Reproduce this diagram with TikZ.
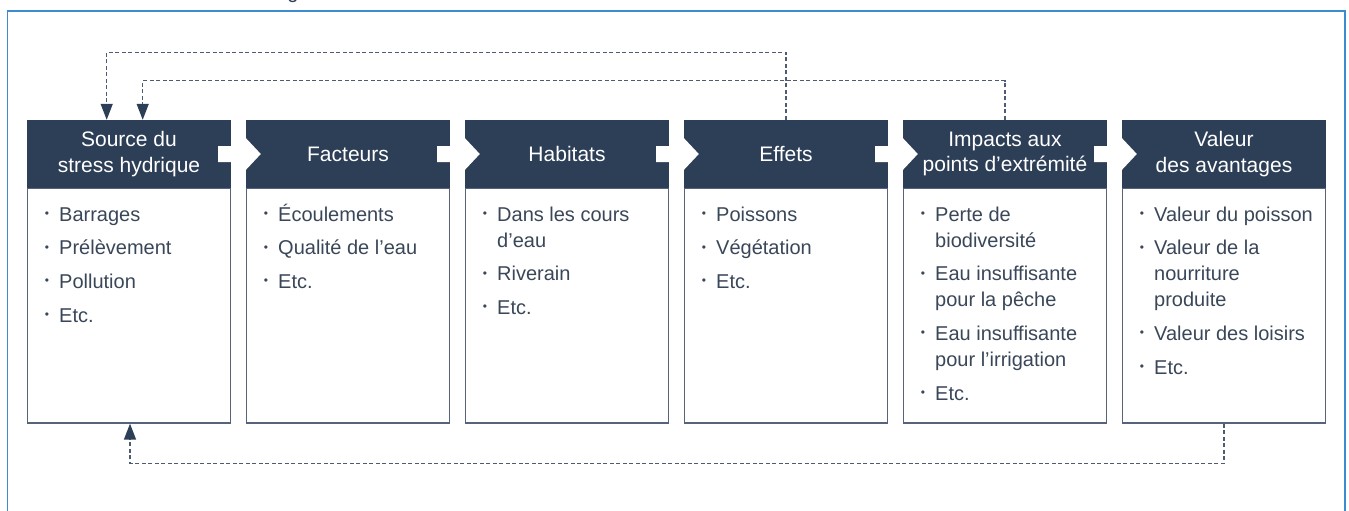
\documentclass[tikz,border=0pt]{standalone}
\usepackage{fontspec}
\setmainfont{Liberation Sans}
\usetikzlibrary{arrows.meta}
\definecolor{navy}{HTML}{2D3E57}
\definecolor{bodytext}{HTML}{3A4759}
\definecolor{bordercol}{HTML}{56637A}
\definecolor{dashcol}{HTML}{4F5B72}
\definecolor{framecol}{HTML}{3D8BD1}
\newcommand\li[4]{\node[itm] (#1) at (#2+32,#3) {#4};}
\newcommand\bu[3]{\node[bulsty] (#1) at (#2+20,#3-6.5) {•};}
\begin{document}
\begin{tikzpicture}[x=1pt,y=-1pt,
  hdr/.style={fill=navy, text=white, minimum width=204pt, minimum height=68pt, inner sep=0pt, align=center, font=\fontsize{21}{25.4}\selectfont},
  bdy/.style={draw=bordercol, line width=1.3pt, fill=white, minimum width=203pt, minimum height=235pt, inner sep=0pt},
  itm/.style={anchor=base west, inner sep=0pt, text=bodytext, font=\fontsize{20}{24}\selectfont},
  bulsty/.style={anchor=center, inner sep=0pt, text=bodytext, font=\fontsize{12}{12}\selectfont},
  fb/.style={draw=dashcol, line width=1.4pt, dash pattern=on 4pt off 2.5pt, -{Triangle[length=16pt,width=12pt,color=navy]}}
]
\useasboundingbox (0,0) rectangle (1349,511);
% outer frame
\draw[framecol, line width=1.5pt] (7.5,540) -- (7.5,11) -- (1345,11) -- (1345,540);
% cut-off title fragment
\node[anchor=base, inner sep=0pt, text=navy, font=\fontsize{20}{24}\selectfont] (ttl) at (293,-1.5) {g};
% boxes
\foreach \i/\L in {1/27,2/246,3/465,4/684,5/903,6/1122}{
  \node[bdy] (b\i) at (\L+102,305.5) {};
  \node[hdr] (h\i) at (\L+102,154) {};
}
\node[hdr] at (h1) {Source du\\stress hydrique};
\node[hdr] at (h2) {Facteurs};
\node[hdr] at (h3) {Habitats};
\node[hdr] at (h4) {Effets};
\node[hdr] at (h5) {Impacts aux\\points d’extrémité};
\node[hdr] at (h6) {Valeur\\des avantages};
% white chevrons between headers
\foreach \i/\j in {1/2,2/3,3/4,4/5,5/6}{
  \fill[white] ([shift={(-13pt,8pt)}]h\i.east) -- ([yshift=8pt]h\j.west) -- ([yshift=16pt]h\j.west)
    -- ([xshift=15pt]h\j.west) -- ([yshift=-16pt]h\j.west) -- ([yshift=-8pt]h\j.west)
    -- ([shift={(-13pt,-8pt)}]h\i.east) -- cycle;
}
% box 1
\bu{u1a}{27}{221}\li{t1a}{27}{221}{Barrages}
\bu{u1b}{27}{254.7}\li{t1b}{27}{254.7}{Prélèvement}
\bu{u1c}{27}{288.4}\li{t1c}{27}{288.4}{Pollution}
\bu{u1d}{27}{322.1}\li{t1d}{27}{322.1}{Etc.}
% box 2
\bu{u2a}{246}{221}\li{t2a}{246}{221}{Écoulements}
\bu{u2b}{246}{254.7}\li{t2b}{246}{254.7}{Qualité de l’eau}
\bu{u2c}{246}{288.4}\li{t2c}{246}{288.4}{Etc.}
% box 3
\bu{u3a}{465}{221}\li{t3a}{465}{221}{Dans les cours}
\li{t3a2}{465}{247}{d’eau}
\bu{u3b}{465}{280.7}\li{t3b}{465}{280.7}{Riverain}
\bu{u3c}{465}{314.4}\li{t3c}{465}{314.4}{Etc.}
% box 4
\bu{u4a}{684}{221}\li{t4a}{684}{221}{Poissons}
\bu{u4b}{684}{254.7}\li{t4b}{684}{254.7}{Végétation}
\bu{u4c}{684}{288.4}\li{t4c}{684}{288.4}{Etc.}
% box 5
\bu{u5a}{903}{221}\li{t5a}{903}{221}{Perte de}
\li{t5a2}{903}{247}{biodiversité}
\bu{u5b}{903}{280.7}\li{t5b}{903}{280.7}{Eau insuffisante}
\li{t5b2}{903}{306.7}{pour la pêche}
\bu{u5c}{903}{340.4}\li{t5c}{903}{340.4}{Eau insuffisante}
\li{t5c2}{903}{366.4}{pour l’irrigation}
\bu{u5d}{903}{400.1}\li{t5d}{903}{400.1}{Etc.}
% box 6
\bu{u6a}{1122}{221}\li{t6a}{1122}{221}{Valeur du poisson}
\bu{u6b}{1122}{254.7}\li{t6b}{1122}{254.7}{Valeur de la}
\li{t6b2}{1122}{280.7}{nourriture}
\li{t6b3}{1122}{306.7}{produite}
\bu{u6c}{1122}{340.4}\li{t6c}{1122}{340.4}{Valeur des loisirs}
\bu{u6d}{1122}{374.1}\li{t6d}{1122}{374.1}{Etc.}
% feedback connectors
\coordinate (c1) at (106.7,52.3);
\coordinate (c2) at (142.7,80.7);
\coordinate (c3) at (130,463.3);
\draw[fb] (h4.north) |- (c1) -- (c1 |- h1.north);
\draw[fb] (h5.north) |- (c2) -- (c2 |- h1.north);
\draw[fb] (b6.south) |- (c3) -- (c3 |- b1.south);
\end{tikzpicture}
\end{document}
